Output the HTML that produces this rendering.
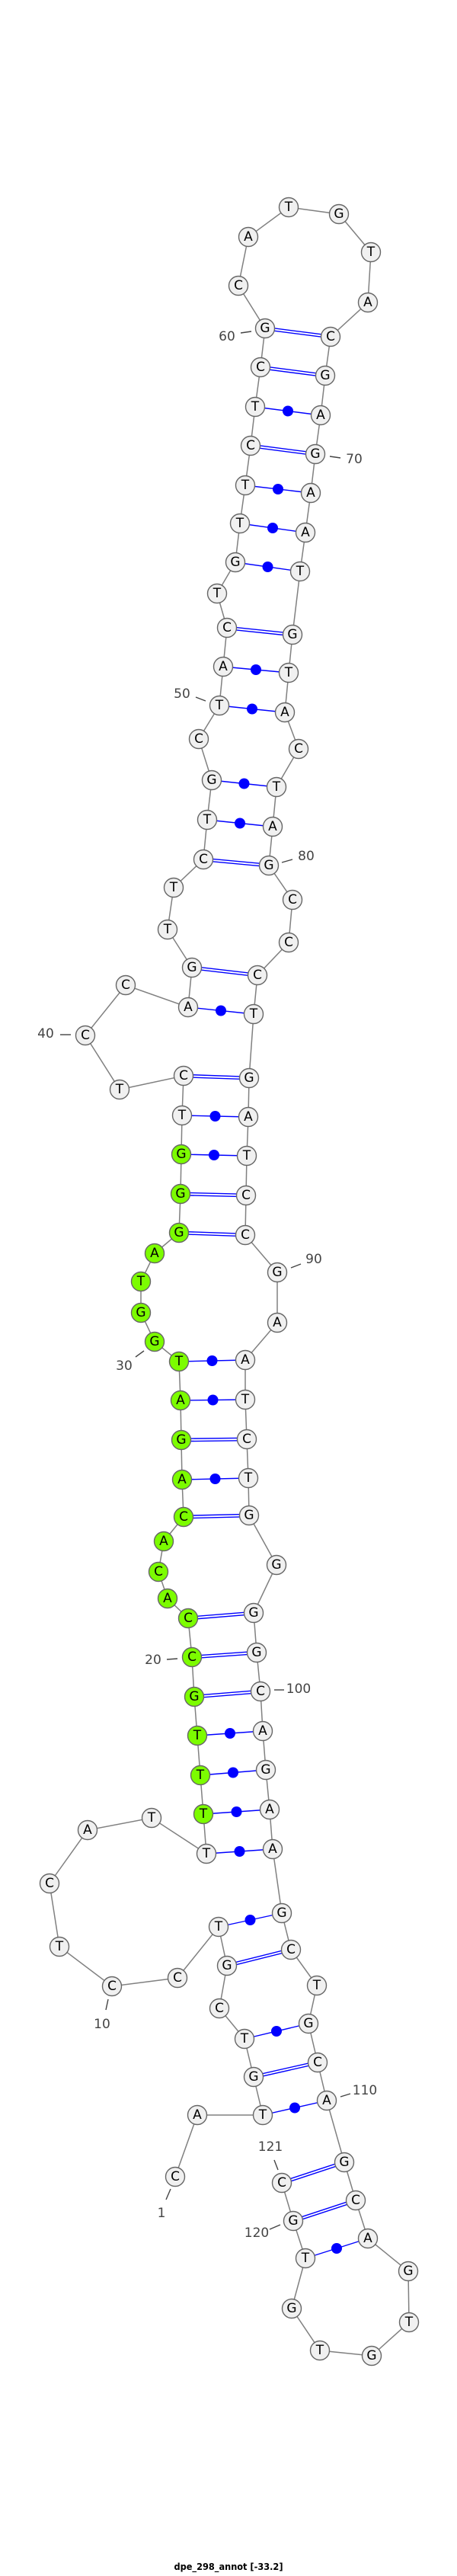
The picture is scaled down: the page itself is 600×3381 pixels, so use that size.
<!DOCTYPE html>
<html><head><meta charset="utf-8"><style>
html,body{margin:0;padding:0;background:#fff;}
svg{display:block;}
.n circle{fill:#f0f0f0;stroke:#666;stroke-width:1.4;}
.n circle.g{fill:#7cfc00;}
.n text{font-family:"DejaVu Sans","Liberation Sans",sans-serif;font-size:17px;fill:#000;text-anchor:middle;dominant-baseline:central;}
.num{font-family:"DejaVu Sans","Liberation Sans",sans-serif;font-size:17px;fill:#444;text-anchor:middle;dominant-baseline:central;}
.tk{stroke:#444;stroke-width:1.4;}
.p line{stroke:#00f;stroke-width:1.4;}
.p circle{fill:#00f;}
</style></head><body>
<svg width="600" height="3381" viewBox="0 0 600 3381" xmlns="http://www.w3.org/2000/svg">
<polyline fill="none" stroke="#808080" stroke-width="1.5" points="230,2857 259,2776 345,2776 333,2726 321,2676 288,2636 298,2580 287,2529 233,2596 147,2607 78,2555 65,2472 115,2402 199,2386 271,2433 267,2381 263,2330 259,2278 255,2227 252,2175 247,2124 220,2098 208,2063 215,2023 241,1991 239,1942 238,1890 237,1838 235,1787 203,1761 185,1723 185,1682 203,1645 235,1618 237,1567 238,1515 239,1464 241,1412 157,1430 112,1359 165,1293 247,1322 252,1270 220,1220 228,1165 267,1128 272,1076 278,1024 261,970 288,926 293,875 298,824 285,779 309,738 315,687 322,637 329,585 335,534 342,482 348,431 313,375 326,311 379,272 445,281 487,331 483,397 434,442 427,493 421,545 414,596 408,647 401,699 394,750 384,833 379,883 374,935 392,983 363,1033 358,1085 353,1136 384,1181 379,1237 338,1280 333,1331 327,1415 326,1466 324,1517 323,1569 322,1621 364,1670 364,1736 322,1785 322,1837 324,1889 326,1940 327,1989 363,2054 333,2117 337,2169 342,2220 345,2272 349,2323 354,2375 358,2427 370,2511 382,2559 416,2606 405,2656 417,2707 429,2757 452,2838 467,2888 483,2938 536,2981 537,3048 488,3092 420,3085 383,3030 401,2964 385,2915 370,2865"/>
<g class="p">
<!-- double (GC) -->
<line x1="348" y1="429.3" x2="434" y2="440.3"/><line x1="348" y1="432.7" x2="434" y2="443.7"/>
<line x1="342" y1="480.3" x2="427" y2="491.3"/><line x1="342" y1="483.7" x2="427" y2="494.7"/>
<line x1="329" y1="583.3" x2="414" y2="594.3"/><line x1="329" y1="586.7" x2="414" y2="597.7"/>
<line x1="298" y1="822.3" x2="384" y2="831.3"/><line x1="298" y1="825.7" x2="384" y2="834.7"/>
<line x1="267" y1="1126.3" x2="353" y2="1134.3"/><line x1="267" y1="1129.7" x2="353" y2="1137.7"/>
<line x1="252" y1="1268.3" x2="338" y2="1278.3"/><line x1="252" y1="1271.7" x2="338" y2="1281.7"/>
<line x1="241" y1="1410.3" x2="327" y2="1413.3"/><line x1="241" y1="1413.7" x2="327" y2="1416.7"/>
<line x1="237" y1="1565.3" x2="323" y2="1567.3"/><line x1="237" y1="1568.7" x2="323" y2="1570.7"/>
<line x1="235" y1="1616.3" x2="322" y2="1619.3"/><line x1="235" y1="1619.7" x2="322" y2="1622.7"/>
<line x1="238" y1="1888.3" x2="324" y2="1887.3"/><line x1="238" y1="1891.7" x2="324" y2="1890.7"/>
<line x1="241" y1="1989.3" x2="327" y2="1987.3"/><line x1="241" y1="1992.7" x2="327" y2="1990.7"/>
<line x1="247" y1="2122.3" x2="333" y2="2115.3"/><line x1="247" y1="2125.7" x2="333" y2="2118.7"/>
<line x1="252" y1="2173.3" x2="337" y2="2167.3"/><line x1="252" y1="2176.7" x2="337" y2="2170.7"/>
<line x1="255" y1="2225.3" x2="342" y2="2218.3"/><line x1="255" y1="2228.7" x2="342" y2="2221.7"/>
<line x1="298" y1="2578.3" x2="382" y2="2557.3"/><line x1="298" y1="2581.7" x2="382" y2="2560.7"/>
<line x1="333" y1="2724.3" x2="417" y2="2705.3"/><line x1="333" y1="2727.7" x2="417" y2="2708.7"/>
<line x1="369.5" y1="2863.4" x2="451.5" y2="2836.4"/><line x1="370.5" y1="2866.6" x2="452.5" y2="2839.6"/>
<line x1="384.5" y1="2913.4" x2="466.5" y2="2886.4"/><line x1="385.5" y1="2916.6" x2="467.5" y2="2889.6"/>
<!-- single with dot -->
<line x1="335" y1="534" x2="421" y2="545"/><circle cx="378" cy="539.5" r="7"/>
<line x1="322" y1="637" x2="408" y2="647"/><circle cx="365" cy="642" r="7"/>
<line x1="315" y1="687" x2="401" y2="699"/><circle cx="358" cy="693" r="7"/>
<line x1="309" y1="738" x2="394" y2="750"/><circle cx="351.5" cy="744" r="7"/>
<line x1="293" y1="875" x2="379" y2="883"/><circle cx="336" cy="879" r="7"/>
<line x1="288" y1="926" x2="374" y2="935"/><circle cx="331" cy="930.5" r="7"/>
<line x1="278" y1="1024" x2="363" y2="1033"/><circle cx="320.5" cy="1028.5" r="7"/>
<line x1="272" y1="1076" x2="358" y2="1085"/><circle cx="315" cy="1080.5" r="7"/>
<line x1="247" y1="1322" x2="333" y2="1331"/><circle cx="290" cy="1326.5" r="7"/>
<line x1="239" y1="1464" x2="326" y2="1466"/><circle cx="282.5" cy="1465" r="7"/>
<line x1="238" y1="1515" x2="324" y2="1517"/><circle cx="281" cy="1516" r="7"/>
<line x1="235" y1="1787" x2="322" y2="1785"/><circle cx="278.5" cy="1786" r="7"/>
<line x1="237" y1="1838" x2="322" y2="1837"/><circle cx="279.5" cy="1837.5" r="7"/>
<line x1="239" y1="1942" x2="326" y2="1940"/><circle cx="282.5" cy="1941" r="7"/>
<line x1="259" y1="2278" x2="345" y2="2272"/><circle cx="302" cy="2275" r="7"/>
<line x1="263" y1="2330" x2="349" y2="2323"/><circle cx="306" cy="2326.5" r="7"/>
<line x1="267" y1="2381" x2="354" y2="2375"/><circle cx="310.5" cy="2378" r="7"/>
<line x1="271" y1="2433" x2="358" y2="2427"/><circle cx="314.5" cy="2430" r="7"/>
<line x1="287" y1="2529" x2="370" y2="2511"/><circle cx="328.5" cy="2520" r="7"/>
<line x1="321" y1="2676" x2="405" y2="2656"/><circle cx="363" cy="2666" r="7"/>
<line x1="345" y1="2776" x2="429" y2="2757"/><circle cx="387" cy="2766.5" r="7"/>
<line x1="401" y1="2964" x2="483" y2="2938"/><circle cx="442" cy="2951" r="7"/>
</g>
<g class="n">
<circle cx="230" cy="2857" r="12.5"/><text x="230" y="2857">C</text>
<circle cx="259" cy="2776" r="12.5"/><text x="259" y="2776">A</text>
<circle cx="345" cy="2776" r="12.5"/><text x="345" y="2776">T</text>
<circle cx="333" cy="2726" r="12.5"/><text x="333" y="2726">G</text>
<circle cx="321" cy="2676" r="12.5"/><text x="321" y="2676">T</text>
<circle cx="288" cy="2636" r="12.5"/><text x="288" y="2636">C</text>
<circle cx="298" cy="2580" r="12.5"/><text x="298" y="2580">G</text>
<circle cx="287" cy="2529" r="12.5"/><text x="287" y="2529">T</text>
<circle cx="233" cy="2596" r="12.5"/><text x="233" y="2596">C</text>
<circle cx="147" cy="2607" r="12.5"/><text x="147" y="2607">C</text>
<circle cx="78" cy="2555" r="12.5"/><text x="78" y="2555">T</text>
<circle cx="65" cy="2472" r="12.5"/><text x="65" y="2472">C</text>
<circle cx="115" cy="2402" r="12.5"/><text x="115" y="2402">A</text>
<circle cx="199" cy="2386" r="12.5"/><text x="199" y="2386">T</text>
<circle cx="271" cy="2433" r="12.5"/><text x="271" y="2433">T</text>
<circle class="g" cx="267" cy="2381" r="12.5"/><text x="267" y="2381">T</text>
<circle class="g" cx="263" cy="2330" r="12.5"/><text x="263" y="2330">T</text>
<circle class="g" cx="259" cy="2278" r="12.5"/><text x="259" y="2278">T</text>
<circle class="g" cx="255" cy="2227" r="12.5"/><text x="255" y="2227">G</text>
<circle class="g" cx="252" cy="2175" r="12.5"/><text x="252" y="2175">C</text>
<circle class="g" cx="247" cy="2124" r="12.5"/><text x="247" y="2124">C</text>
<circle class="g" cx="220" cy="2098" r="12.5"/><text x="220" y="2098">A</text>
<circle class="g" cx="208" cy="2063" r="12.5"/><text x="208" y="2063">C</text>
<circle class="g" cx="215" cy="2023" r="12.5"/><text x="215" y="2023">A</text>
<circle class="g" cx="241" cy="1991" r="12.5"/><text x="241" y="1991">C</text>
<circle class="g" cx="239" cy="1942" r="12.5"/><text x="239" y="1942">A</text>
<circle class="g" cx="238" cy="1890" r="12.5"/><text x="238" y="1890">G</text>
<circle class="g" cx="237" cy="1838" r="12.5"/><text x="237" y="1838">A</text>
<circle class="g" cx="235" cy="1787" r="12.5"/><text x="235" y="1787">T</text>
<circle class="g" cx="203" cy="1761" r="12.5"/><text x="203" y="1761">G</text>
<circle class="g" cx="185" cy="1723" r="12.5"/><text x="185" y="1723">G</text>
<circle class="g" cx="185" cy="1682" r="12.5"/><text x="185" y="1682">T</text>
<circle class="g" cx="203" cy="1645" r="12.5"/><text x="203" y="1645">A</text>
<circle class="g" cx="235" cy="1618" r="12.5"/><text x="235" y="1618">G</text>
<circle class="g" cx="237" cy="1567" r="12.5"/><text x="237" y="1567">G</text>
<circle class="g" cx="238" cy="1515" r="12.5"/><text x="238" y="1515">G</text>
<circle cx="239" cy="1464" r="12.5"/><text x="239" y="1464">T</text>
<circle cx="241" cy="1412" r="12.5"/><text x="241" y="1412">C</text>
<circle cx="157" cy="1430" r="12.5"/><text x="157" y="1430">T</text>
<circle cx="112" cy="1359" r="12.5"/><text x="112" y="1359">C</text>
<circle cx="165" cy="1293" r="12.5"/><text x="165" y="1293">C</text>
<circle cx="247" cy="1322" r="12.5"/><text x="247" y="1322">A</text>
<circle cx="252" cy="1270" r="12.5"/><text x="252" y="1270">G</text>
<circle cx="220" cy="1220" r="12.5"/><text x="220" y="1220">T</text>
<circle cx="228" cy="1165" r="12.5"/><text x="228" y="1165">T</text>
<circle cx="267" cy="1128" r="12.5"/><text x="267" y="1128">C</text>
<circle cx="272" cy="1076" r="12.5"/><text x="272" y="1076">T</text>
<circle cx="278" cy="1024" r="12.5"/><text x="278" y="1024">G</text>
<circle cx="261" cy="970" r="12.5"/><text x="261" y="970">C</text>
<circle cx="288" cy="926" r="12.5"/><text x="288" y="926">T</text>
<circle cx="293" cy="875" r="12.5"/><text x="293" y="875">A</text>
<circle cx="298" cy="824" r="12.5"/><text x="298" y="824">C</text>
<circle cx="285" cy="779" r="12.5"/><text x="285" y="779">T</text>
<circle cx="309" cy="738" r="12.5"/><text x="309" y="738">G</text>
<circle cx="315" cy="687" r="12.5"/><text x="315" y="687">T</text>
<circle cx="322" cy="637" r="12.5"/><text x="322" y="637">T</text>
<circle cx="329" cy="585" r="12.5"/><text x="329" y="585">C</text>
<circle cx="335" cy="534" r="12.5"/><text x="335" y="534">T</text>
<circle cx="342" cy="482" r="12.5"/><text x="342" y="482">C</text>
<circle cx="348" cy="431" r="12.5"/><text x="348" y="431">G</text>
<circle cx="313" cy="375" r="12.5"/><text x="313" y="375">C</text>
<circle cx="326" cy="311" r="12.5"/><text x="326" y="311">A</text>
<circle cx="379" cy="272" r="12.5"/><text x="379" y="272">T</text>
<circle cx="445" cy="281" r="12.5"/><text x="445" y="281">G</text>
<circle cx="487" cy="331" r="12.5"/><text x="487" y="331">T</text>
<circle cx="483" cy="397" r="12.5"/><text x="483" y="397">A</text>
<circle cx="434" cy="442" r="12.5"/><text x="434" y="442">C</text>
<circle cx="427" cy="493" r="12.5"/><text x="427" y="493">G</text>
<circle cx="421" cy="545" r="12.5"/><text x="421" y="545">A</text>
<circle cx="414" cy="596" r="12.5"/><text x="414" y="596">G</text>
<circle cx="408" cy="647" r="12.5"/><text x="408" y="647">A</text>
<circle cx="401" cy="699" r="12.5"/><text x="401" y="699">A</text>
<circle cx="394" cy="750" r="12.5"/><text x="394" y="750">T</text>
<circle cx="384" cy="833" r="12.5"/><text x="384" y="833">G</text>
<circle cx="379" cy="883" r="12.5"/><text x="379" y="883">T</text>
<circle cx="374" cy="935" r="12.5"/><text x="374" y="935">A</text>
<circle cx="392" cy="983" r="12.5"/><text x="392" y="983">C</text>
<circle cx="363" cy="1033" r="12.5"/><text x="363" y="1033">T</text>
<circle cx="358" cy="1085" r="12.5"/><text x="358" y="1085">A</text>
<circle cx="353" cy="1136" r="12.5"/><text x="353" y="1136">G</text>
<circle cx="384" cy="1181" r="12.5"/><text x="384" y="1181">C</text>
<circle cx="379" cy="1237" r="12.5"/><text x="379" y="1237">C</text>
<circle cx="338" cy="1280" r="12.5"/><text x="338" y="1280">C</text>
<circle cx="333" cy="1331" r="12.5"/><text x="333" y="1331">T</text>
<circle cx="327" cy="1415" r="12.5"/><text x="327" y="1415">G</text>
<circle cx="326" cy="1466" r="12.5"/><text x="326" y="1466">A</text>
<circle cx="324" cy="1517" r="12.5"/><text x="324" y="1517">T</text>
<circle cx="323" cy="1569" r="12.5"/><text x="323" y="1569">C</text>
<circle cx="322" cy="1621" r="12.5"/><text x="322" y="1621">C</text>
<circle cx="364" cy="1670" r="12.5"/><text x="364" y="1670">G</text>
<circle cx="364" cy="1736" r="12.5"/><text x="364" y="1736">A</text>
<circle cx="322" cy="1785" r="12.5"/><text x="322" y="1785">A</text>
<circle cx="322" cy="1837" r="12.5"/><text x="322" y="1837">T</text>
<circle cx="324" cy="1889" r="12.5"/><text x="324" y="1889">C</text>
<circle cx="326" cy="1940" r="12.5"/><text x="326" y="1940">T</text>
<circle cx="327" cy="1989" r="12.5"/><text x="327" y="1989">G</text>
<circle cx="363" cy="2054" r="12.5"/><text x="363" y="2054">G</text>
<circle cx="333" cy="2117" r="12.5"/><text x="333" y="2117">G</text>
<circle cx="337" cy="2169" r="12.5"/><text x="337" y="2169">G</text>
<circle cx="342" cy="2220" r="12.5"/><text x="342" y="2220">C</text>
<circle cx="345" cy="2272" r="12.5"/><text x="345" y="2272">A</text>
<circle cx="349" cy="2323" r="12.5"/><text x="349" y="2323">G</text>
<circle cx="354" cy="2375" r="12.5"/><text x="354" y="2375">A</text>
<circle cx="358" cy="2427" r="12.5"/><text x="358" y="2427">A</text>
<circle cx="370" cy="2511" r="12.5"/><text x="370" y="2511">G</text>
<circle cx="382" cy="2559" r="12.5"/><text x="382" y="2559">C</text>
<circle cx="416" cy="2606" r="12.5"/><text x="416" y="2606">T</text>
<circle cx="405" cy="2656" r="12.5"/><text x="405" y="2656">G</text>
<circle cx="417" cy="2707" r="12.5"/><text x="417" y="2707">C</text>
<circle cx="429" cy="2757" r="12.5"/><text x="429" y="2757">A</text>
<circle cx="452" cy="2838" r="12.5"/><text x="452" y="2838">G</text>
<circle cx="467" cy="2888" r="12.5"/><text x="467" y="2888">C</text>
<circle cx="483" cy="2938" r="12.5"/><text x="483" y="2938">A</text>
<circle cx="536" cy="2981" r="12.5"/><text x="536" y="2981">G</text>
<circle cx="537" cy="3048" r="12.5"/><text x="537" y="3048">T</text>
<circle cx="488" cy="3092" r="12.5"/><text x="488" y="3092">G</text>
<circle cx="420" cy="3085" r="12.5"/><text x="420" y="3085">T</text>
<circle cx="383" cy="3030" r="12.5"/><text x="383" y="3030">G</text>
<circle cx="401" cy="2964" r="12.5"/><text x="401" y="2964">T</text>
<circle cx="385" cy="2915" r="12.5"/><text x="385" y="2915">G</text>
<circle cx="370" cy="2865" r="12.5"/><text x="370" y="2865">C</text>
</g>
<g>
<line class="tk" x1="316" y1="437" x2="330" y2="435"/><text class="num" x="298" y="442">60</text>
<line class="tk" x1="433" y1="599" x2="447" y2="601"/><text class="num" x="465" y="603">70</text>
<line class="tk" x1="257" y1="915" x2="270" y2="920"/><text class="num" x="239" y="911">50</text>
<line class="tk" x1="370" y1="1132" x2="384" y2="1128"/><text class="num" x="402" y="1124">80</text>
<line class="tk" x1="79" y1="1358" x2="93" y2="1358"/><text class="num" x="60" y="1357">40</text>
<line class="tk" x1="382" y1="1664" x2="395" y2="1659"/><text class="num" x="412" y="1653">90</text>
<line class="tk" x1="178" y1="1781" x2="189" y2="1773"/><text class="num" x="163" y="1793">30</text>
<line class="tk" x1="219" y1="2178" x2="233" y2="2177"/><text class="num" x="201" y="2179">20</text>
<line class="tk" x1="360" y1="2218" x2="373" y2="2218"/><text class="num" x="392" y="2217">100</text>
<line class="tk" x1="142" y1="2624" x2="139" y2="2638"/><text class="num" x="134" y="2657">10</text>
<line class="tk" x1="447" y1="2752" x2="460" y2="2748"/><text class="num" x="479" y="2744">110</text>
<line class="tk" x1="360" y1="2835" x2="365" y2="2848"/><text class="num" x="355" y="2818">121</text>
<line class="tk" x1="224" y1="2873" x2="218" y2="2887"/><text class="num" x="212" y="2905">1</text>
<line class="tk" x1="354" y1="2926" x2="368" y2="2920"/><text class="num" x="337" y="2931">120</text>
</g>
<text x="300" y="3373" font-family="'DejaVu Sans','Liberation Sans',sans-serif" font-size="12" font-weight="bold" text-anchor="middle" textLength="143" lengthAdjust="spacingAndGlyphs">dpe_298_annot [-33.2]</text>
</svg>
</body></html>
